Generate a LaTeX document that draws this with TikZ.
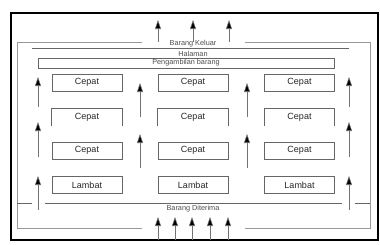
\documentclass[tikz,border=0pt]{standalone}
\usepackage{fontspec}
\setmainfont{Liberation Sans}
\usetikzlibrary{arrows.meta}

\begin{document}
\begin{tikzpicture}[x=1pt,y=-1pt,
    rak/.style={minimum width=70pt, minimum height=17pt, inner sep=0pt,
                text=black!85, font=\fontsize{9}{10}\selectfont},
    garis/.style={draw=black!60, line width=0.7pt},
    alir/.style={draw=black!55, line width=0.6pt,
                 -{Triangle[length=9pt,width=6pt,fill=black]}},
    ket/.style={inner sep=0pt, text=black!70, font=\fontsize{7.3}{8}\selectfont}]

    \useasboundingbox (0,0) rectangle (380,244);
    \draw[line width=2pt] (11,13) rectangle (378,240);

    \draw[draw=black!40, line width=1pt] (142,42) -- (17,42) -- (17,228) -- (142,228);
    \draw[draw=black!40, line width=1pt] (245,42) -- (370,42) -- (370,228) -- (245,228);

    \draw[draw=black!60, line width=0.9pt] (32,48.5) -- (349,48.5);
    \draw[draw=black!60, line width=0.9pt] (17,203) -- (32,203) (45,203) -- (342,203) (355,203) -- (370,203);

    \node[ket] (keluar) at (193,44) {Barang Keluar};
    \node[ket] (halaman) at (193,53.5) {Halaman};
    \node[ket, garis, minimum width=296pt, minimum height=10pt] (ambil) at (186,63) {Pengambilan barang};
    \node[ket] (terima) at (193,209) {Barang Diterima};

    \foreach \x [count=\c] in {87,193,299.5} {
        \node[rak, garis] (c1\c) at (\x,82.5) {Cepat};
        \node[rak] (c2\c) at (\x,117.5) {Cepat};
        \draw[garis] (c2\c.south west) -- (c2\c.north west) -- (c2\c.north east) -- (c2\c.south east);
        \node[rak, garis] (c3\c) at (\x,150.5) {Cepat};
        \node[rak, garis] (l\c) at (\x,185) {Lambat};
    }

    \foreach \x [count=\i] in {158,193,229} {
        \coordinate (kel\i a) at (\x,42);
        \coordinate (kel\i b) at (\x,20);
        \draw[alir] (kel\i a) -- (kel\i b);
    }

    \foreach \x [count=\i] in {158,175,192,210,228} {
        \coordinate (ter\i a) at (\x,240);
        \coordinate (ter\i b) at (\x,217);
        \draw[alir] (ter\i a) -- (ter\i b);
    }

    \foreach \x [count=\i] in {38,349} {
        \coordinate (tp\i a) at (\x,107);
        \coordinate (tp\i b) at (\x,77);
        \coordinate (tp\i c) at (\x,157);
        \coordinate (tp\i d) at (\x,122);
        \coordinate (tp\i e) at (\x,210);
        \coordinate (tp\i f) at (\x,176);
        \draw[alir] (tp\i a) -- (tp\i b);
        \draw[alir] (tp\i c) -- (tp\i d);
        \draw[alir] (tp\i e) -- (tp\i f);
    }

    \foreach \x [count=\i] in {140,247} {
        \coordinate (tg\i a) at (\x,117);
        \coordinate (tg\i b) at (\x,83);
        \coordinate (tg\i c) at (\x,168);
        \coordinate (tg\i d) at (\x,134);
        \draw[alir] (tg\i a) -- (tg\i b);
        \draw[alir] (tg\i c) -- (tg\i d);
    }
\end{tikzpicture}
\end{document}
